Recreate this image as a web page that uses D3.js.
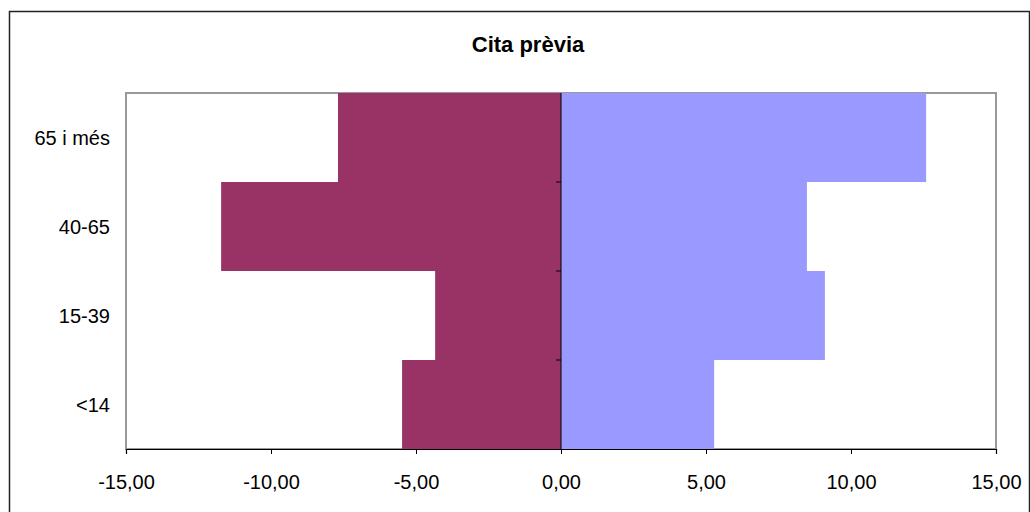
<!DOCTYPE html>
<html>
<head>
<meta charset="utf-8">
<script src="https://cdn.jsdelivr.net/npm/d3@7/dist/d3.min.js"></script>
<style>
  html, body { margin: 0; padding: 0; background: #fff; }
  svg { display: block; font-family: Arial, "Liberation Sans", sans-serif; }
</style>
</head>
<body>
<svg id="chart" width="1030" height="512"></svg>
<script>
// Age groups, bottom to top
const categories = ["<14", "15-39", "40-65", "65 i més"];
// Left side (negative) and right side (positive) series
const seriesLeft = [-5.48, -4.34, -11.72, -7.69];
const seriesRight = [5.28, 9.10, 8.48, 12.59];
const xTicks = [-15, -10, -5, 0, 5, 10, 15];
const title = "Cita prèvia";

const svg = d3.select("#chart");

// Outer chart frame
svg.append("rect")
  .attr("x", 9.5).attr("y", 11.5)
  .attr("width", 1020).attr("height", 520)
  .attr("fill", "none").attr("stroke", "#222").attr("stroke-width", 1.5);

const plot = { left: 126, right: 996, top: 93, bottom: 449 };

const x = d3.scaleLinear().domain([-15, 15]).range([plot.left, plot.right]);
const y = d3.scaleBand().domain(categories.slice().reverse())
  .range([plot.top, plot.bottom]).padding(0);

// Plot area border
svg.append("rect")
  .attr("x", plot.left).attr("y", plot.top)
  .attr("width", plot.right - plot.left).attr("height", plot.bottom - plot.top)
  .attr("fill", "#fff").attr("stroke", "#999").attr("stroke-width", 2);

// Bars
const rows = categories.map((c, i) => ({ c, l: seriesLeft[i], r: seriesRight[i] }));
svg.append("g").selectAll("rect").data(rows).join("rect")
  .attr("x", d => x(d.l)).attr("y", d => y(d.c))
  .attr("width", d => x(0) - x(d.l)).attr("height", y.bandwidth())
  .attr("fill", "#993366");
svg.append("g").selectAll("rect").data(rows).join("rect")
  .attr("x", x(0)).attr("y", d => y(d.c))
  .attr("width", d => x(d.r) - x(0)).attr("height", y.bandwidth())
  .attr("fill", "#9999FF");

// X axis
const xAxis = svg.append("g")
  .attr("transform", `translate(0,${plot.bottom})`)
  .call(d3.axisBottom(x).tickValues(xTicks).tickSize(5).tickPadding(21)
    .tickFormat(d => d3.format(".2f")(d).replace(".", ",").replace("−", "-")));
xAxis.select(".domain").attr("stroke", "#000").attr("stroke-width", 1.2);
xAxis.selectAll(".tick line").attr("stroke", "#000");
xAxis.selectAll("text").attr("font-size", 20).attr("fill", "#000")
  .attr("font-family", "Arial, 'Liberation Sans', sans-serif");

// Vertical axis at zero with ticks between categories
const yAxisG = svg.append("g").attr("transform", `translate(${x(0)},0)`);
yAxisG.append("line")
  .attr("y1", plot.top).attr("y2", plot.bottom)
  .attr("stroke", "#000").attr("stroke-width", 1);
const boundaries = categories.slice().reverse().map(c => y(c)).slice(1);
yAxisG.selectAll(".bt").data(boundaries).join("line")
  .attr("x1", -5).attr("x2", 0)
  .attr("y1", d => d).attr("y2", d => d)
  .attr("stroke", "#000");

// Category labels
svg.append("g").selectAll("text").data(categories).join("text")
  .attr("x", 110).attr("y", d => y(d) + y.bandwidth() / 2)
  .attr("text-anchor", "end").attr("dominant-baseline", "central")
  .attr("font-size", 20).attr("fill", "#000")
  .text(d => d);

// Title
svg.append("text")
  .attr("x", 528).attr("y", 52)
  .attr("text-anchor", "middle")
  .attr("font-size", 22).attr("font-weight", "bold")
  .text(title);
</script>
</body>
</html>
